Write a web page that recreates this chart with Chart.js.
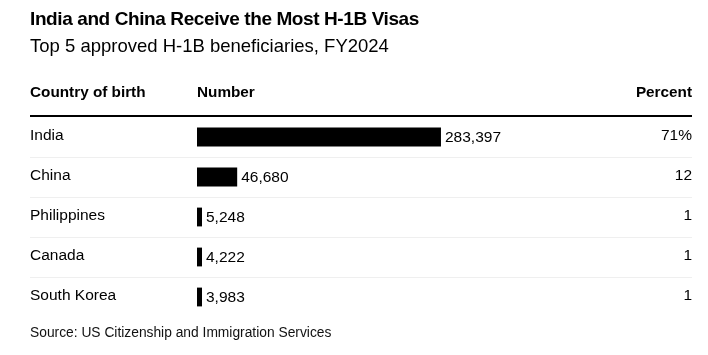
<!DOCTYPE html>
<html>
<head>
<meta charset="utf-8">
<script src="https://cdn.jsdelivr.net/npm/chart.js@4.4.1/dist/chart.umd.min.js"></script>
<style>
  html, body { margin: 0; padding: 0; background: #fff; }
  #wrap { position: relative; width: 708px; height: 355px; overflow: hidden; }
  #c { position: absolute; left: 0; top: 0; }
  .t { position: absolute; white-space: nowrap; color: #000; font-family: "Liberation Sans", Arial, sans-serif; }
  #title { left: 30px; top: 8px; font-size: 19px; font-weight: bold; letter-spacing: -0.4px; }
  #subtitle { left: 30px; top: 35px; font-size: 18.5px; }
  #source { left: 30px; top: 325px; font-size: 13.8px; color: #111; }
</style>
</head>
<body>
<div id="wrap">
  <canvas id="c" width="708" height="355"></canvas>
  <div class="t" id="title">India and China Receive the Most H-1B Visas</div>
  <div class="t" id="subtitle">Top 5 approved H-1B beneficiaries, FY2024</div>
  <div class="t" id="source">Source: US Citizenship and Immigration Services</div>
</div>
<script>
const countries = ["India", "China", "Philippines", "Canada", "South Korea"];
const numbers = [283397, 46680, 5248, 4222, 3983];
const percents = ["71%", "12", "1", "1", "1"];
const headers = ["Country of birth", "Number", "Percent"];

const FONT = '"Liberation Sans", Arial, sans-serif';
const LEFT_X = 30, RIGHT_X = 692;

const tablePlugin = {
  id: 'tablePlugin',
  afterDatasetsDraw(chart) {
    const ctx = chart.ctx;
    const y = chart.scales.y;
    const area = chart.chartArea;
    ctx.save();
    // header
    ctx.fillStyle = '#000';
    ctx.font = 'bold 15.3px ' + FONT;
    ctx.textBaseline = 'middle';
    ctx.textAlign = 'left';
    ctx.fillText(headers[0], LEFT_X, 92.5);
    ctx.fillText(headers[1], area.left, 92.5);
    ctx.textAlign = 'right';
    ctx.fillText(headers[2], RIGHT_X, 92.5);
    // header rule
    ctx.fillRect(LEFT_X, area.top - 2, RIGHT_X - LEFT_X, 2);
    // row separators
    ctx.fillStyle = '#efefef';
    for (let i = 0; i < countries.length - 1; i++) {
      const yy = (y.getPixelForValue(i) + y.getPixelForValue(i + 1)) / 2;
      ctx.fillRect(LEFT_X, Math.round(yy), RIGHT_X - LEFT_X, 1);
    }
    // row texts
    ctx.fillStyle = '#000';
    ctx.font = '15.5px ' + FONT;
    const meta = chart.getDatasetMeta(0);
    countries.forEach((c, i) => {
      const yy = y.getPixelForValue(i);
      ctx.textAlign = 'left';
      ctx.fillText(c, LEFT_X, yy - 1);
      const barEnd = meta.data[i].x;
      ctx.fillText(numbers[i].toLocaleString('en-US'), barEnd + 4, yy + 1);
      ctx.textAlign = 'right';
      ctx.fillText(percents[i], RIGHT_X, yy - 1);
    });
    ctx.restore();
  }
};

new Chart(document.getElementById('c'), {
  type: 'bar',
  data: {
    labels: countries,
    datasets: [{
      data: numbers,
      backgroundColor: '#000',
      borderWidth: 0,
      barPercentage: 1,
      categoryPercentage: 0.47,
      minBarLength: 5
    }]
  },
  options: {
    indexAxis: 'y',
    responsive: false,
    animation: false,
    layout: { padding: { left: 197, right: 16, top: 117, bottom: 38 } },
    plugins: { legend: { display: false }, tooltip: { enabled: false }, title: { display: false } },
    scales: {
      x: { display: false, min: 0, max: 575000 },
      y: { display: false, offset: true }
    }
  },
  plugins: [tablePlugin]
});
</script>
</body>
</html>
